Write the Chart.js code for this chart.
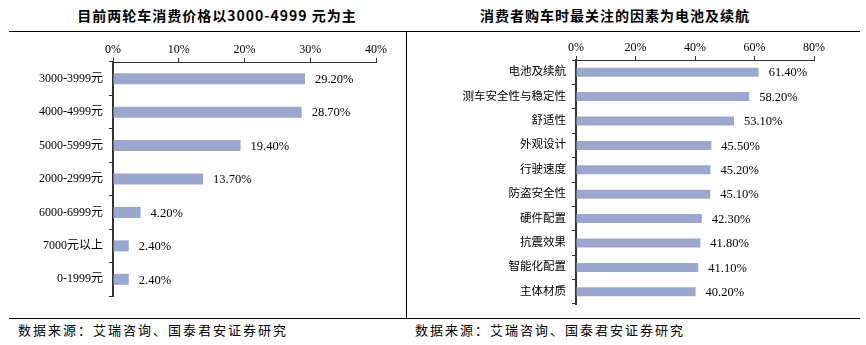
<!DOCTYPE html>
<html>
<head>
<meta charset="utf-8">
<script src="https://cdn.jsdelivr.net/npm/chart.js@4"></script>
<style>
  body { margin: 0; background: #fff; width: 866px; height: 345px; position: relative; overflow: hidden; }
  .title { position: absolute; top: 5px; font: bold 14px "Noto Sans CJK SC", sans-serif; letter-spacing: 1px; color: #000; white-space: nowrap; transform: translateX(-50%); }
  .source { position: absolute; top: 320px; font: 13px "Noto Sans CJK SC", sans-serif; letter-spacing: 2px; color: #000; white-space: nowrap; }
  .hline { position: absolute; left: 9px; width: 851px; height: 1px; background: #000; }
  .vline { position: absolute; left: 406px; top: 31px; width: 1px; height: 287px; background: #000; }
  canvas { position: absolute; }
</style>
</head>
<body>
<div class="title" style="left:217px">目前两轮车消费价格以3000-4999 元为主</div>
<div class="title" style="left:615px">消费者购车时最关注的因素为电池及续航</div>
<div class="hline" style="top:31px"></div>
<div class="hline" style="top:318px"></div>
<div class="vline"></div>
<div class="source" style="left:18px">数据来源：艾瑞咨询、国泰君安证券研究</div>
<div class="source" style="left:415px">数据来源：艾瑞咨询、国泰君安证券研究</div>

<div style="position:absolute;left:0;top:32px;width:406px;height:286px"><canvas id="priceChart"></canvas></div>
<div style="position:absolute;left:407px;top:32px;width:459px;height:286px"><canvas id="factorChart"></canvas></div>

<script>
// Price range share
const priceLabels = ["3000-3999元", "4000-4999元", "5000-5999元", "2000-2999元", "6000-6999元", "7000元以上", "0-1999元"];
const priceValues = [29.2, 28.7, 19.4, 13.7, 4.2, 2.4, 2.4];

// Purchase factors
const factorLabels = ["电池及续航", "测车安全性与稳定性", "舒适性", "外观设计", "行驶速度", "防盗安全性", "硬件配置", "抗震效果", "智能化配置", "主体材质"];
const factorValues = [61.4, 58.2, 53.1, 45.5, 45.2, 45.1, 42.3, 41.8, 41.1, 40.2];

const barColor = "#9BA7CC";
const serif = "'Liberation Serif', 'Noto Sans CJK SC', serif";

// Draw the value next to each bar
const valueLabels = {
    id: "valueLabels",
    afterDatasetsDraw(chart) {
        const ctx = chart.ctx;
        const meta = chart.getDatasetMeta(0);
        ctx.save();
        ctx.font = "12.5px " + serif;
        ctx.fillStyle = "#000";
        ctx.textBaseline = "middle";
        meta.data.forEach((bar, i) => {
            const v = chart.data.datasets[0].data[i];
            ctx.fillText(v.toFixed(2) + "%", bar.x + 10, bar.y + 1);
        });
        ctx.restore();
    }
};

function makeChart(id, labels, values, opts) {
    const ctx = document.getElementById(id).getContext("2d");
    return new Chart(ctx, {
        type: "bar",
        data: {
            labels: labels,
            datasets: [{
                data: values,
                backgroundColor: barColor,
                categoryPercentage: 1,
                barPercentage: opts.barPct,
            }],
        },
        options: {
            indexAxis: "y",
            responsive: true,
            maintainAspectRatio: false,
            animation: false,
            layout: { padding: { left: 0, top: 0, right: opts.padRight, bottom: opts.padBottom } },
            plugins: { legend: { display: false }, tooltip: { enabled: false } },
            scales: {
                x: {
                    position: "top",
                    min: 0,
                    max: opts.max,
                    ticks: {
                        stepSize: opts.step,
                        color: "#000",
                        font: { family: serif, size: 12 },
                        padding: 1,
                        callback: (v) => v + "%",
                    },
                    grid: { drawOnChartArea: false, drawTicks: true, tickLength: 4, color: "#333" },
                    border: { display: true, color: "#333", width: 1 },
                    afterFit: (s) => { s.height = opts.axisH; },
                },
                y: {
                    ticks: {
                        color: "#000",
                        font: { family: serif, size: opts.labelSize },
                        padding: 6,
                    },
                    grid: { drawOnChartArea: false, drawTicks: true, tickLength: 4, color: "#333" },
                    border: { display: true, color: "#333", width: 2 },
                    afterFit: (s) => { s.width = opts.axisW; },
                },
            },
        },
        plugins: [valueLabels],
    });
}

makeChart("priceChart", priceLabels, priceValues, {
    max: 40, step: 10, barPct: 0.33, padRight: 30, padBottom: 22, axisH: 30, axisW: 113, labelSize: 12,
});
makeChart("factorChart", factorLabels, factorValues, {
    max: 80, step: 20, barPct: 0.37, padRight: 52, padBottom: 14, axisH: 28, axisW: 169, labelSize: 11.5,
});
</script>
</body>
</html>
